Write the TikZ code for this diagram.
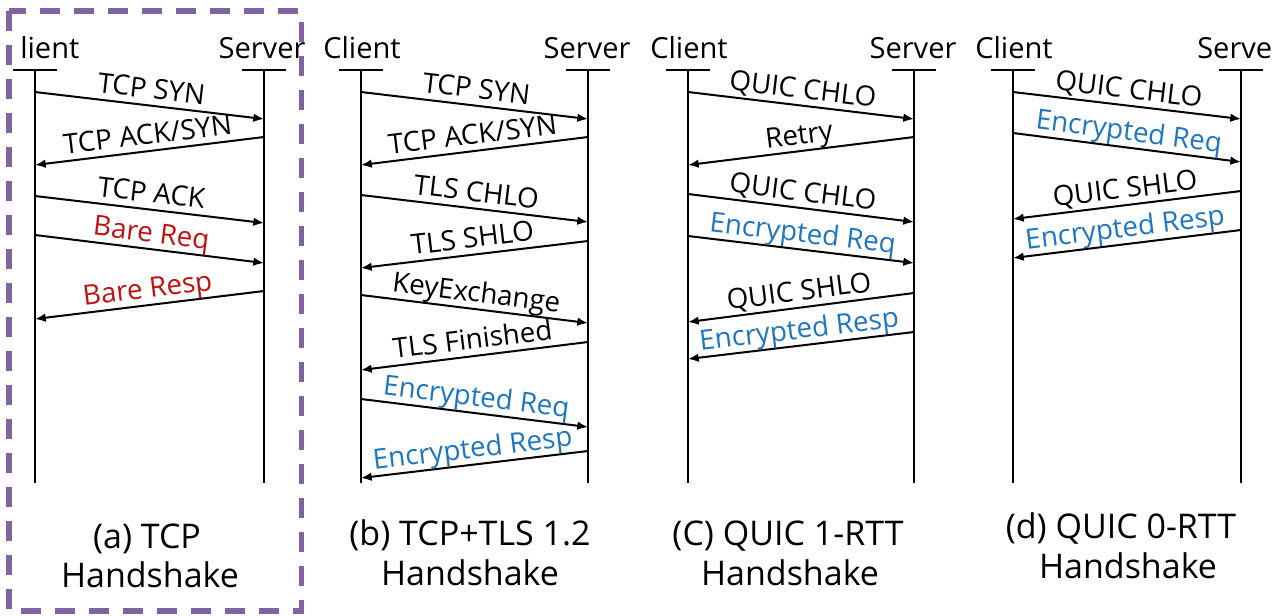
\documentclass[tikz,border=0pt]{standalone}
\usepackage{fontspec}
\setmainfont{Open Sans}
\usetikzlibrary{arrows.meta}
\definecolor{boxpurple}{RGB}{128,100,162}
\definecolor{barered}{RGB}{192,16,16}
\definecolor{encblue}{RGB}{30,118,192}
\newcommand{\Msg}[7]{%
  \coordinate (#1s) at (#2,#3);
  \coordinate (#1e) at (#4,#5);
  \draw[msg] (#1s) -- node[lbl,#6]{#7} (#1e);}
\begin{document}
\begin{tikzpicture}[x=0.75pt,y=-0.75pt,
  msg/.style={line width=1.5pt,-{Latex[length=8pt,width=6.5pt]}},
  life/.style={line width=1.7pt},
  lbl/.style={sloped,above=4.5pt,inner sep=0pt,text depth=0pt,font=\fontsize{20.8}{23}\selectfont},
  head/.style={anchor=base,inner sep=0pt,font=\fontsize{21.8}{24}\selectfont},
  captxt/.style={anchor=base,inner sep=0pt,font=\fontsize{25.5}{28}\selectfont},
  redtxt/.style={text=barered},
  bluetxt/.style={text=encblue}]
\useasboundingbox (0,0) rectangle (1274,615);
% dashed frame
\draw[boxpurple,line width=4pt,dash pattern=on 15pt off 10.5pt] (9,11) rectangle (301.5,611);
% ---- lifelines and heads ----
\foreach \n/\x in {aC/35,aS/264,bC/361,bS/588,cC/688,cS/914,dC/1013,dS/1241}{
  \coordinate (\n t) at (\x,70);
  \coordinate (\n b) at (\x,483);
  \coordinate (\n l) at (\x-22,70);
  \coordinate (\n r) at (\x+22,70);
  \draw[life] (\n l) -- (\n r);
  \draw[life] (\n t) -- (\n b);
}
\node[head,anchor=base west] (haC) at (20,58) {lient};
\node[head] (haS) at (262,58) {Server};
\node[head] (hbC) at (362,58) {Client};
\node[head] (hbS) at (587,58) {Server};
\node[head] (hcC) at (689,58) {Client};
\node[head] (hcS) at (913,58) {Server};
\node[head] (hdC) at (1014,58) {Client};
\node[head,anchor=base west] (hdS) at (1197,58) {Serve};
% ---- panel a ----
\Msg{a1}{35}{92}{264}{119}{}{TCP SYN}
\Msg{a2}{264}{137}{35}{165}{}{TCP ACK/SYN}
\Msg{a3}{35}{196}{264}{223}{}{TCP ACK}
\Msg{a4}{35}{235}{264}{263}{redtxt}{Bare Req}
\Msg{a5}{264}{291}{35}{319}{redtxt}{Bare Resp}
% ---- panel b ----
\Msg{b1}{361}{92}{588}{119}{}{TCP SYN}
\Msg{b2}{588}{137}{361}{165}{}{TCP ACK/SYN}
\Msg{b3}{361}{195}{588}{222}{}{TLS CHLO}
\Msg{b4}{588}{241}{361}{268}{}{TLS SHLO}
\Msg{b5}{361}{295}{588}{323}{}{KeyExchange}
\Msg{b6}{588}{342}{361}{370}{}{TLS Finished}
\Msg{b7}{361}{399}{588}{427}{bluetxt}{Encrypted Req}
\Msg{b8}{588}{451}{361}{478}{bluetxt}{Encrypted Resp}
% ---- panel c ----
\Msg{c1}{688}{92}{914}{119}{}{QUIC CHLO}
\Msg{c2}{914}{137}{688}{165}{}{Retry}
\Msg{c3}{688}{194}{914}{222}{}{QUIC CHLO}
\Msg{c4}{688}{236}{914}{263}{bluetxt}{Encrypted Req}
\Msg{c5}{914}{293}{688}{322}{}{QUIC SHLO}
\Msg{c6}{914}{332}{688}{359}{bluetxt}{Encrypted Resp}
% ---- panel d ----
\Msg{d1}{1013}{92}{1241}{119}{}{QUIC CHLO}
\Msg{d2}{1013}{133}{1241}{162}{bluetxt}{Encrypted Req}
\Msg{d3}{1241}{191}{1013}{219}{}{QUIC SHLO}
\Msg{d4}{1241}{230}{1013}{258}{bluetxt}{Encrypted Resp}
% ---- captions ----
\node[captxt] (capa1) at (147,548) {(a) TCP};
\node[captxt] (capa2) at (150,587) {Handshake};
\node[captxt] (capb1) at (470,545) {(b) TCP+TLS 1.2};
\node[captxt] (capb2) at (470,585) {Handshake};
\node[captxt] (capc1) at (788,545) {(C) QUIC 1-RTT};
\node[captxt] (capc2) at (790,585) {Handshake};
\node[captxt] (capd1) at (1121,538) {(d) QUIC 0-RTT};
\node[captxt] (capd2) at (1128,578) {Handshake};
\end{tikzpicture}
\end{document}
